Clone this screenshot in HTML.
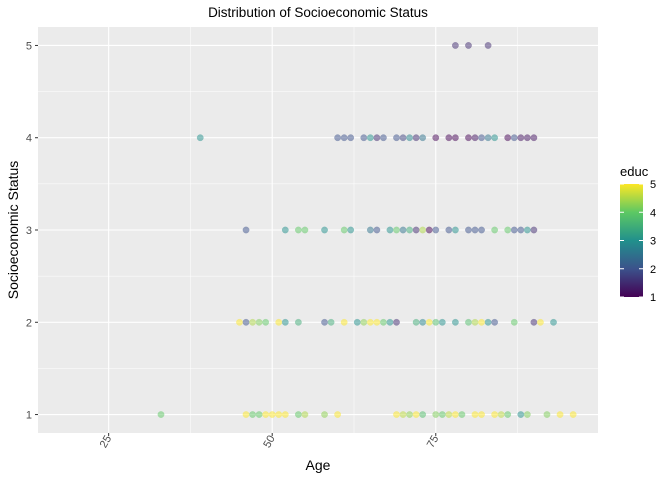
<!DOCTYPE html>
<html><head><meta charset="utf-8"><style>
body{margin:0;background:#fff;}
svg{display:block;font-family:"Liberation Sans",sans-serif;}
</style></head><body>
<svg id="chart" width="672" height="480" viewBox="0 0 672 480">
<defs><linearGradient id="vir" x1="0" y1="1" x2="0" y2="0">
<stop offset="0" stop-color="#440154"/><stop offset="0.25" stop-color="#3B528B"/><stop offset="0.5" stop-color="#21908C"/><stop offset="0.75" stop-color="#5DC863"/><stop offset="1" stop-color="#FDE725"/></linearGradient></defs>
<text x="318" y="17" font-size="13.5" text-anchor="middle" fill="#000">Distribution of Socioeconomic Status</text>
<rect x="38" y="27" width="560" height="406" fill="#EBEBEB"/>
<g id="grid"></g><g id="pts"></g><g id="axes"></g>
<text x="318" y="470" font-size="14" text-anchor="middle">Age</text>
<text transform="translate(18,230) rotate(-90)" font-size="14" text-anchor="middle">Socioeconomic Status</text>
<g>
<text x="620" y="176" font-size="13">educ</text>
<rect x="620" y="184" width="23" height="113" fill="url(#vir)"/>
<g id="leg"></g>
</g>
</svg>
<script>
const ns="http://www.w3.org/2000/svg";
const row5Ages=[78,80,83];
const row5Educ=[1.5,1.5,1.5];
const row4Ages=[39,60,61,62,64,65,66,67,69,70,71,72,73,75,77,78,80,81,82,83,84,86,87,88,89,90];
const row4Educ=[3,2,2,2,2,3,1.5,2,2,1.8,2.8,1.5,2.5,1,1,1,1,1.2,2,2.5,3,1,2,1.2,1.2,1.2];
const row3Ages=[46,52,54,55,58,61,62,65,66,68,69,70,71,72,73,74,75,77,78,80,81,82,84,86,87,88,89,90];
const row3Educ=[2,3,4,4,3,4,3,2.5,2,3,4,2.5,3.5,1.5,4.5,1,2,2,3,2,2,2,4,4,2,2,3,1.5];
const row2Ages=[45,46,47,48,49,51,52,54,58,59,61,63,64,65,66,67,68,69,72,73,74,75,76,78,80,81,82,83,84,87,90,91,93];
const row2Educ=[5,2,4.5,4.2,4,5,3,3.5,2,3.5,5,3,4.3,5,5,4,3,1.5,3.5,2.8,5,3.8,3,3,3.8,4.5,5,3,2,4,1.5,5,3];
const row1Ages=[33,46,47,48,49,50,51,52,54,55,58,60,69,70,71,72,73,75,76,77,78,79,81,82,84,85,86,88,89,92,94,96];
const row1Educ=[4,5,4,4,5,5,5,5,4,4.5,4.3,5,5,4.6,4.3,5,3.8,4.2,4,4.6,5,4,5,5,5,4.6,4,3,4.2,4.2,5,5];
const xTicks=[25,50,75];
const yTicks=[1,2,3,4,5];
const legTicks=[1,2,3,4,5];
const rows=[[5,row5Ages,row5Educ],[4,row4Ages,row4Educ],[3,row3Ages,row3Educ],[2,row2Ages,row2Educ],[1,row1Ages,row1Educ]];
const X=a=>38+(a-14.2)/(99.8-14.2)*560;
const Y=v=>433-(v-0.8)/4.4*406;
const L=v=>297-(v-1)/4*113;
const stops=[[68,1,84],[59,82,139],[33,144,140],[93,200,99],[253,231,37]];
function col(e){let t=Math.max(0,Math.min(4,e-1));let i=Math.min(3,Math.floor(t)),f=t-i;const a=stops[i],b=stops[i+1];return `rgb(${a.map((c,k)=>Math.round(c+(b[k]-c)*f)).join(',')})`;}
function mk(tag,at,p){const e=document.createElementNS(ns,tag);for(const k in at)e.setAttribute(k,at[k]);p.appendChild(e);return e;}
const grid=document.getElementById('grid'),pts=document.getElementById('pts'),axes=document.getElementById('axes'),leg=document.getElementById('leg');
for(let i=0;i<yTicks.length-1;i++){const l=mk('line',{x1:38,x2:598,y1:Y(yTicks[i]+0.5),y2:Y(yTicks[i]+0.5),stroke:'#fff','stroke-width':0.5},grid);}
for(let i=0;i<xTicks.length;i++){const v=xTicks[i]+12.5;const l=mk('line',{x1:X(v),x2:X(v),y1:27,y2:433,stroke:'#fff','stroke-width':0.5},grid);}
{const l=mk('line',{x1:X(12.5),x2:X(12.5),y1:27,y2:433,stroke:'#fff','stroke-width':0.5},grid);}
yTicks.forEach(v=>{const l=mk('line',{x1:38,x2:598,y1:Y(v),y2:Y(v),stroke:'#fff','stroke-width':1.1},grid);
const t=mk('line',{x1:35,x2:38,y1:Y(v),y2:Y(v),stroke:'#333'},axes);
const tx=mk('text',{x:32,y:Y(v)+4,'font-size':11,'text-anchor':'end',fill:'#4D4D4D'},axes);tx.textContent=v;});
xTicks.forEach(v=>{const l=mk('line',{x1:X(v),x2:X(v),y1:27,y2:433,stroke:'#fff','stroke-width':1.1},grid);
mk('line',{x1:X(v),x2:X(v),y1:433,y2:436,stroke:'#333'},axes);
const tx=mk('text',{transform:`translate(${X(v)+3},438) rotate(-60)`,'font-size':11,'text-anchor':'end',fill:'#4D4D4D'},axes);tx.textContent=v;});
rows.forEach(([s,ages,ed])=>ages.forEach((a,i)=>{const c=mk('circle',{cx:X(a),cy:Y(s),r:3.2,fill:col(ed[i]),'fill-opacity':0.5,stroke:col(ed[i]),'stroke-opacity':0.5,'stroke-width':0.3},pts);

}));
legTicks.forEach(v=>{mk('line',{x1:620,x2:624,y1:L(v),y2:L(v),stroke:'#fff'},leg);mk('line',{x1:639,x2:643,y1:L(v),y2:L(v),stroke:'#fff'},leg);
const tx=mk('text',{x:650,y:L(v)+4,'font-size':11},leg);tx.textContent=v;});
</script>
</body></html>
